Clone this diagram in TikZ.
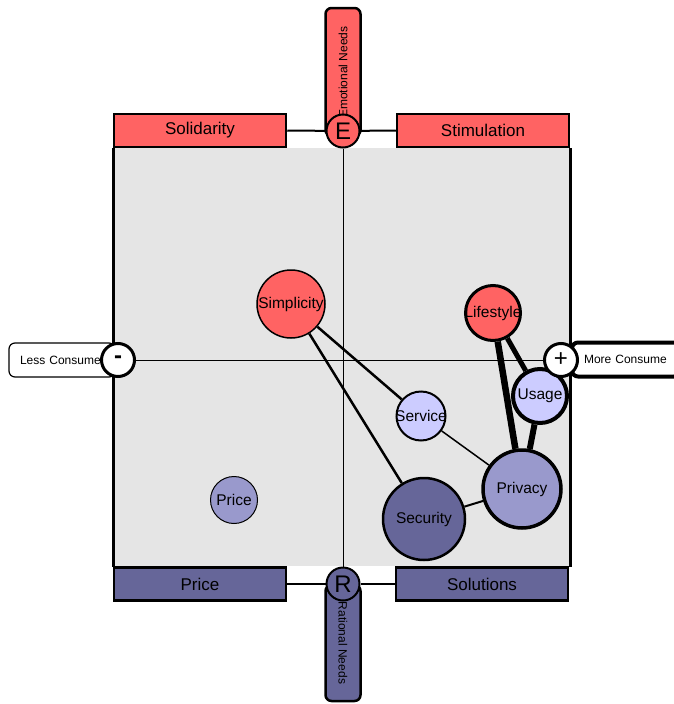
\documentclass[tikz,border=0pt]{standalone}
\usepackage{fontspec}
\setmainfont{Liberation Sans}
\usepackage{xcolor}
\usepackage{tikz}
\usetikzlibrary{shapes, positioning, calc}

\definecolor{emored}{RGB}{255,99,99}
\definecolor{ratblue}{RGB}{102,102,153}
\definecolor{midblue}{RGB}{153,153,204}
\definecolor{lightblue}{RGB}{204,204,255}
\definecolor{fieldgray}{RGB}{229,229,229}

\begin{document}
\begin{tikzpicture}[
    x=1pt, y=-1pt,
    quadrant/.style={rectangle, draw, line width=2.5pt, minimum width=172pt, minimum height=33pt, font=\fontsize{17}{20}\selectfont},
    needtab/.style={rectangle, rounded corners=6pt, draw, line width=2.5pt, minimum height=35pt, inner sep=0pt, font=\fontsize{12}{14}\selectfont},
    pole/.style={circle, draw, line width=2pt, minimum size=33pt, inner sep=0pt, font=\fontsize{24}{26}\selectfont},
    consume/.style={rectangle, rounded corners=6pt, draw, fill=white, minimum width=106pt, minimum height=34pt, text width=84pt, align=left, font=\fontsize{12}{14}\selectfont},
    topic/.style={circle, draw, inner sep=0pt, font=\fontsize{15.5}{17}\selectfont},
    link/.style={line width=2.5pt},
]
\useasboundingbox (0,0) rectangle (674,704);

% Field
\fill [fieldgray] (113,148) rectangle (570,566);
\draw [line width=3pt] (113,148) -- (113,567);
\draw [line width=3pt] (570,148) -- (570,567);

% Needs
\node (emo) [needtab, fill=emored, rotate=90, minimum width=128pt] at (343,72) {Emotional Needs};
\node (rat) [needtab, fill=ratblue, rotate=-90, minimum width=116pt] at (343,643) {Rational Needs};

% Quadrants
\node (sol) [quadrant, fill=emored] at (200,130.5) {Solidarity};
\node (stim) [quadrant, fill=emored] at (483,130.5) {Stimulation};
\node (price) [quadrant, fill=ratblue] at (200,584) {Price};
\node (solu) [quadrant, fill=ratblue] at (482,584) {Solutions};

% Consume
\node (less) [consume, line width=1.2pt] at (62,360) {Less Consume};
\node (more) [consume, line width=4pt, inner xsep=12pt] at (626,359.5) {More Consume};

% Topics
\node (simp) [topic, fill=emored, minimum size=68pt, line width=1.5pt] at (291,304) {\makebox[0pt]{Simplicity}};
\node (life) [topic, fill=emored, minimum size=55pt, line width=3pt] at (493,313) {\makebox[0pt]{Lifestyle}};
\node (serv) [topic, fill=lightblue, minimum size=49pt, line width=2pt] at (421,416) {\makebox[0pt]{Service}};
\node (usage) [topic, fill=lightblue, minimum size=54pt, line width=4pt] at (540,396) {\makebox[0pt]{Usage}};
\node (priv) [topic, fill=midblue, minimum size=78pt, line width=3.5pt] at (522,489) {\makebox[0pt]{Privacy}};
\node (sec) [topic, fill=ratblue, minimum size=82pt, line width=2.5pt] at (424,519) {\makebox[0pt]{Security}};
\node (pr) [topic, fill=midblue, minimum size=47pt, line width=1pt] at (234,500) {\makebox[0pt]{Price}};

% Poles
\node (E) [pole, fill=emored] at (343,131) {E};
\node (R) [pole, fill=ratblue] at (343,584) {R};
\node (minus) [pole, fill=white, line width=3pt, font=\bfseries\fontsize{24}{26}\selectfont] at (118,360) {-};
\node (plus) [pole, fill=white, line width=3pt] at (561,360) {+};

% Axes
\draw [line width=1pt] (E) -- (R);
\draw [line width=1pt] (minus) -- (plus);
\draw [line width=2pt] (sol.east) -- (E);
\draw [line width=2pt] (E) -- (stim.west);
\draw [line width=2pt] (price.east) -- (R);
\draw [line width=2pt] (R) -- (solu.west);

% Links
\draw [link] (simp) -- (serv);
\draw [link] (simp) -- (sec);
\draw [link, line width=1.5pt] (serv) -- (priv);
\draw [link, line width=2pt] (sec) -- (priv);
\draw [link, line width=6.5pt] (life) -- (priv);
\draw [link, line width=5pt] (life) -- (usage);
\draw [link, line width=6pt] (usage) -- (priv);

\end{tikzpicture}
\end{document}
